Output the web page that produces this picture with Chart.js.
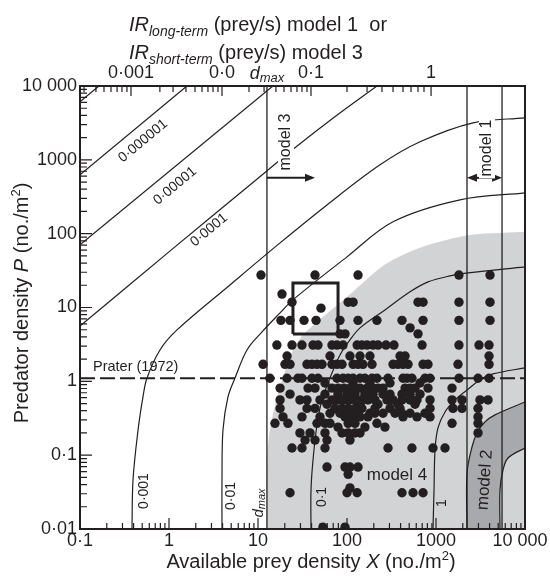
<!DOCTYPE html>
<html>
<head>
<meta charset="utf-8">
<title>IR isolines</title>
<script src="https://cdn.jsdelivr.net/npm/chart.js@4.4.1/dist/chart.umd.min.js"></script>
<style>
  html, body { margin: 0; padding: 0; background: #fff; }
  canvas { display: block; }
</style>
</head>
<body>
<canvas id="graphe" width="550" height="581"></canvas>
<script>
var ink = '#231f20';
var lightGrey = '#d2d3d5';
var darkGrey = '#a7a9ac';
var F = '"Liberation Sans", Arial, sans-serif';

// axes
var xTicks = [0.1, 1, 10, 100, 1000, 10000];
var xTickLabels = ['0·1', '1', '10', '100', '1000', '10 000\u00a0\u00a0'];
var yTicks = [0.01, 0.1, 1, 10, 100, 1000, 10000];
var yTickLabels = ['0·01', '0·1', '1', '10', '100', '1000', '10 000'];

// top axis = IR (prey/s), put at the prey density where each curve stands vertical
var topTickX = [0.374, 3.94, 39.4, 880];
var topTickLabels = ['0·001', '0·0', '0·1', '1'];
var topMinorX = [0.111, 0.151, 0.186, 0.223, 0.261, 0.296, 0.337,
    0.79, 1.11, 1.55, 1.96, 2.35, 2.74, 3.12, 3.55,
    7.92, 11.7, 15.9, 19.6, 23.5, 27.4, 31.2, 35.5,
    100, 168, 247, 329, 426, 524, 628, 733];

var dMax = 12.6;
var model1From = 2230;
var model1To = 5520;
var praterP = 1.1;
var arrowP = 570;
var model3ArrowTo = 43.7;
var boxX = [24.7, 79.3];
var boxP = [4.39, 21.5];

// iso-IR curves [X, P]
var ir1e7 = [[0.1, 6100], [0.163, 10000]];
var ir1e6 = [[0.1, 627], [1.59, 10000]];
var ir1e5 = [[0.1, 70.5], [14.7, 10000]];
var ir1e4 = [[0.1, 5.6], [1.03, 58.5], [10.5, 589], [26, 1455], [73, 3830], [217, 10000]];
var ir1e3 = [[0.384, 0.01], [0.394, 0.0461], [0.449, 0.219], [0.51, 0.615], [0.566, 1.11], [0.792, 2.66], [1.23, 4.97],
    [4.84, 20.2], [17.7, 75], [59.6, 245], [235, 855], [661, 1754], [2606, 3170], [10000, 3710]];
var ir1e2 = [[3.94, 0.01], [3.94, 0.0461], [4.04, 0.219], [4.6, 0.615], [5.52, 1.11], [7.52, 2.66], [11.1, 4.67],
    [17.7, 8.45], [24.7, 12.7], [100, 48.5], [329, 145], [1862, 287], [10000, 357]];
var ir1e1 = [[39.4, 0.01], [39.4, 0.0337], [41.5, 0.086], [46, 0.256], [52.4, 0.56], [64.4, 1.11], [83.4, 2.28],
    [108, 3.64], [140, 5.3], [267, 9.27], [511, 16.3], [813, 22.2], [1436, 26.8], [2290, 29.4], [10000, 35.5]];
var ir1 = [[925, 0.01], [950, 0.0337], [975, 0.117], [1052, 0.234], [1262, 0.385], [1635, 0.56], [2230, 0.763],
    [3119, 1.045], [4365, 1.26], [10000, 1.52]];
var dMaxEdge = [[12.6, 0.01], [12.6, 0.063], [13.6, 0.219], [17.7, 0.84], [24.7, 2.66], [32, 4.25], [46, 6.38],
    [100, 13.9], [329, 44.2], [1862, 90.6], [10000, 106]];
var model2Outer = [[2230, 0.01], [2230, 0.0574], [2537, 0.129], [2888, 0.2], [3553, 0.282], [4604, 0.351], [10000, 0.526]];
var model2Inner = [[5236, 0.01], [5236, 0.0337], [5662, 0.063], [6442, 0.0916], [10000, 0.125]];

// observations, one row per predator density level
var dotRowP = [27.5, 15.2, 11.8, 9.8, 6.7, 5.3, 4.4, 3.1, 2.2, 1.7, 1.1, 0.95, 0.81, 0.67, 0.56, 0.49, 0.43, 0.37, 0.33,
    0.27, 0.24, 0.2, 0.16, 0.125, 0.069, 0.055, 0.036, 0.031, 0.0106];
var dotRowX = [
    [10.8, 43.7, 133, 1811, 4045],
    [18.6],
    [24.1, 103, 117, 628, 715, 1811, 4045],
    [51],
    [18.1, 22.9, 32.9, 44.9, 83.4, 133, 217, 415, 715, 1811, 4045],
    [511],
    [83.4, 95, 628],
    [16.3, 24.1, 31.2, 41.5, 47.2, 67.8, 77.2, 90.2, 130, 147, 168, 196, 223, 274, 337, 697, 1811, 3041, 3944],
    [21.2, 64.4, 108, 140, 181, 394, 449, 3944],
    [11.4, 20.1, 22.9, 35.5, 40.4, 46, 52.4, 67.8, 77.2, 87.9, 117, 133, 151, 191, 329, 374, 426, 485, 715, 813, 1766, 3944],
    [13.6, 21.2, 28.1, 31.2, 40.4, 47.2, 77.2, 90.2, 103, 117, 140, 159, 191, 217, 289, 426, 473, 537, 752, 857, 1811, 2966, 3944],
    [56.6, 117, 181, 304, 661],
    [17.7, 36.5, 43.7, 67.8, 79.2, 92.5, 108, 123, 140, 168, 196, 223, 254, 449, 511, 581, 813, 1514],
    [22.9, 56.6, 79.2, 100, 123, 159, 196, 254, 304, 415, 511, 661],
    [17.7, 29.6, 35.5, 49.7, 67.8, 79.2, 92.5, 108, 126, 147, 172, 206, 281, 329, 415, 511, 612, 857, 1514, 1958, 3119, 3840],
    [59.6, 140, 223, 374, 581],
    [17.7, 35.5, 43.7, 73.3, 87.9, 103, 123, 147, 206, 304, 394, 857, 1552, 1958, 2966],
    [64.4, 83.4, 103, 117, 133, 181, 206, 254, 346, 415, 511, 752],
    [19.1, 31.2, 49.7, 95, 114, 140, 172, 426, 612, 857, 2966],
    [15.5, 21.7, 46, 56.6, 64.4, 103, 123, 217, 1514, 2966],
    [79.2, 159, 267],
    [29.6, 38.4, 56.6, 87.9, 103, 123, 140, 2966],
    [33.8, 43.7, 59.6, 108],
    [24.1, 31.2, 56.6, 289, 537, 925, 1262],
    [59.6, 95, 108, 133],
    [103],
    [108],
    [22.9, 100, 130, 415, 552, 715],
    [53.7, 95]
];

function pts(arr) {
    return arr.map(function (p) { return { x: p[0], y: p[1] }; });
}

function courbe(arr, extra) {
    var ds = {
        type: 'line', data: pts(arr), borderColor: ink, borderWidth: 1.2,
        pointRadius: 0, tension: 0.35, fill: false, order: 2
    };
    return Object.assign(ds, extra || {});
}

var dots = [];
dotRowP.forEach(function (p, i) {
    dotRowX[i].forEach(function (x) { dots.push({ x: x, y: p }); });
});

// "fond" = colour filled under the curve, down to the x axis (done in the plugin below)
var datasets = [
    { type: 'scatter', data: dots, backgroundColor: ink, borderWidth: 0, pointRadius: 4.7, order: 0 },
    courbe(dMaxEdge, { borderWidth: 0, borderColor: 'rgba(0,0,0,0)', fond: lightGrey, order: 6 }),
    courbe(model2Outer, { fond: darkGrey, order: 5 }),
    courbe(model2Inner, { fond: lightGrey, order: 4 }),
    courbe(ir1e7, { tension: 0 }),
    courbe(ir1e6, { tension: 0 }),
    courbe(ir1e5, { tension: 0 }),
    courbe(ir1e4),
    courbe(ir1e3),
    courbe(ir1e2),
    courbe(ir1e1),
    courbe(ir1),
    courbe([[dMax, 0.01], [dMax, 10000]], { tension: 0, borderWidth: 1.3 }),
    courbe([[model1From, 0.01], [model1From, 10000]], { tension: 0, borderWidth: 1.3 }),
    courbe([[model1To, 0.01], [model1To, 10000]], { tension: 0, borderWidth: 1.3 }),
    courbe([[0.1, praterP], [10000, praterP]], { tension: 0, borderWidth: 2, borderDash: [15, 5] }),
    courbe([[boxX[0], boxP[0]], [boxX[1], boxP[0]], [boxX[1], boxP[1]], [boxX[0], boxP[1]], [boxX[0], boxP[0]]],
        { tension: 0, borderWidth: 3, borderJoinStyle: 'miter', order: 1 })
];

// mixed-font text, parts = [text, font, dy]
function rich(ctx, parts, x, y, align) {
    var w = 0;
    parts.forEach(function (p) { ctx.font = p[1]; w += ctx.measureText(p[0]).width; });
    var cx = align === 'center' ? x - w / 2 : (align === 'right' ? x - w : x);
    ctx.textAlign = 'left';
    parts.forEach(function (p) {
        ctx.font = p[1];
        ctx.fillText(p[0], cx, y + (p[2] || 0));
        cx += ctx.measureText(p[0]).width;
    });
    return w;
}

function turned(ctx, x, y, angle, fn) {
    ctx.save();
    ctx.translate(x, y);
    ctx.rotate(angle);
    fn();
    ctx.restore();
}

function arrowHead(ctx, x, y, dir) {
    ctx.beginPath();
    ctx.moveTo(x, y);
    ctx.lineTo(x - dir * 10, y - 4);
    ctx.lineTo(x - dir * 10, y + 4);
    ctx.closePath();
    ctx.fill();
}

var fonds = {
    id: 'fonds',
    beforeDatasetsDraw: function (chart) {
        var ctx = chart.ctx, a = chart.chartArea;
        ctx.save();
        ctx.beginPath();
        ctx.rect(a.left, a.top, a.right - a.left, a.bottom - a.top);
        ctx.clip();
        chart.data.datasets.forEach(function (ds, i) {
            if (!ds.fond) return;
            var line = chart.getDatasetMeta(i).dataset;
            ctx.beginPath();
            line.path(ctx);
            ctx.lineTo(a.right, a.bottom);
            ctx.closePath();
            ctx.fillStyle = ds.fond;
            ctx.fill();
        });
        ctx.restore();
    }
};

var decor = {
    id: 'decor',
    afterDraw: function (chart) {
        var ctx = chart.ctx, a = chart.chartArea;
        var sx = chart.scales.x, sy = chart.scales.y, st = chart.scales.x2;
        var k, m, p;
        ctx.save();
        ctx.strokeStyle = ink;
        ctx.fillStyle = ink;

        // tick marks, all pointing inwards
        ctx.lineWidth = 1.2;
        ctx.beginPath();
        for (k = -1; k <= 3; k++) {
            for (m = 1; m <= 9; m++) {
                p = sx.getPixelForValue(m * Math.pow(10, k));
                ctx.moveTo(p, a.bottom);
                ctx.lineTo(p, a.bottom - (m === 1 ? 11 : 6));
            }
        }
        for (k = -2; k <= 3; k++) {
            for (m = 1; m <= 9; m++) {
                p = sy.getPixelForValue(m * Math.pow(10, k));
                ctx.moveTo(a.left, p);
                ctx.lineTo(a.left + (m === 1 ? 12 : 7), p);
            }
        }
        topTickX.forEach(function (v) {
            var q = st.getPixelForValue(v);
            ctx.moveTo(q, a.top);
            ctx.lineTo(q, a.top + 10);
        });
        topMinorX.forEach(function (v) {
            var q = st.getPixelForValue(v);
            ctx.moveTo(q, a.top);
            ctx.lineTo(q, a.top + 6);
        });
        ctx.stroke();

        // frame
        ctx.lineWidth = 2;
        ctx.strokeRect(a.left, a.top, a.right - a.left, a.bottom - a.top);

        // arrows model 3 / model 1
        var ya = sy.getPixelForValue(arrowP);
        var x0 = sx.getPixelForValue(dMax), x1 = sx.getPixelForValue(model3ArrowTo);
        ctx.lineWidth = 2;
        ctx.beginPath();
        ctx.moveTo(x0, ya);
        ctx.lineTo(x1 - 6, ya);
        ctx.stroke();
        arrowHead(ctx, x1, ya, 1);
        var m0 = sx.getPixelForValue(model1From), m1 = sx.getPixelForValue(model1To);
        ctx.beginPath();
        ctx.moveTo(m0 + 6, ya);
        ctx.lineTo(m1 - 6, ya);
        ctx.stroke();
        arrowHead(ctx, m0, ya, -1);
        arrowHead(ctx, m1, ya, 1);

        ctx.textBaseline = 'middle';
        // labels along the diagonal lines
        var diag = Math.atan2(sy.getPixelForValue(1) - sy.getPixelForValue(10),
            sx.getPixelForValue(10) - sx.getPixelForValue(1));
        [['0·000001', 143, 141], ['0·00001', 175, 186], ['0·0001', 209, 230]].forEach(function (l) {
            turned(ctx, l[1], l[2], -Math.abs(diag), function () {
                rich(ctx, [[l[0], '14px ' + F]], 0, 0, 'center');
            });
        });

        // vertical labels at the foot of the curves
        [['0·001', 144, 491], ['0·01', 231, 496], ['0·1', 322, 497], ['1', 442, 503]].forEach(function (l) {
            turned(ctx, l[1], l[2], -Math.PI / 2, function () {
                rich(ctx, [[l[0], '14px ' + F]], 0, 0, 'center');
            });
        });
        turned(ctx, 259, 503, -Math.PI / 2, function () {
            rich(ctx, [['d', 'italic 15px ' + F], ['max', 'italic 11px ' + F, 3]], 0, 0, 'center');
        });

        // model labels on white patches
        [['model 3', 286, 142], ['model 1', 487, 148]].forEach(function (l) {
            turned(ctx, l[1], l[2], -Math.PI / 2, function () {
                ctx.font = '16px ' + F;
                var w = ctx.measureText(l[0]).width;
                ctx.fillStyle = '#fff';
                ctx.fillRect(-w / 2 - 2, -8, w + 4, 16);
                ctx.fillStyle = ink;
                rich(ctx, [[l[0], '16px ' + F]], 0, 0, 'center');
            });
        });
        turned(ctx, 485, 480, -86 * Math.PI / 180, function () {
            rich(ctx, [['model 2', '17px ' + F]], 0, 0, 'center');
        });
        rich(ctx, [['model 4', '17px ' + F]], 397, 475, 'center');

        ctx.textBaseline = 'alphabetic';
        rich(ctx, [['Prater (1972)', '14.5px ' + F]], 93, 371, 'left');

        // top axis dmax
        rich(ctx, [['d', 'italic 18px ' + F], ['max', 'italic 13px ' + F, 3]], st.getPixelForValue(dMax), 79, 'center');

        // axis titles
        rich(ctx, [['Available prey density ', '20px ' + F], ['X', 'italic 20px ' + F], [' (no./m', '20px ' + F],
            ['2', '13px ' + F, -8], [')', '20px ' + F]], 311, 568, 'center');
        turned(ctx, 28, 303, -Math.PI / 2, function () {
            rich(ctx, [['Predator density ', '20px ' + F], ['P', 'italic 20px ' + F], [' (no./m', '20px ' + F],
                ['2', '13px ' + F, -8], [')', '20px ' + F]], 0, 0, 'center');
        });
        rich(ctx, [['IR', 'italic 20px ' + F], ['long-term', 'italic 14px ' + F, 5],
            [' (prey/s) model 1  or', '20px ' + F]], 129, 31, 'left');
        rich(ctx, [['IR', 'italic 20px ' + F], ['short-term', 'italic 14px ' + F, 5],
            [' (prey/s) model 3', '20px ' + F]], 129, 59, 'left');
        ctx.restore();
    }
};

function axe(position, ticks, labels, size, pad) {
    return {
        type: 'logarithmic', position: position,
        min: position === 'left' ? 0.01 : 0.1, max: 10000,
        afterBuildTicks: function (s) { s.ticks = ticks.map(function (v) { return { value: v }; }); },
        afterFit: function (s) {
            if (position === 'left') { s.width = size; } else { s.height = size; }
            s.paddingLeft = 0; s.paddingRight = 0; s.paddingTop = 0; s.paddingBottom = 0;
        },
        grid: { display: false, drawTicks: false },
        border: { display: false },
        ticks: {
            autoSkip: false, maxRotation: 0, padding: pad, color: ink,
            font: { family: F, size: 18 },
            callback: function (v, i) { return labels[i]; }
        }
    };
}

new Chart(document.getElementById('graphe'), {
    type: 'scatter',
    data: { datasets: datasets },
    options: {
        responsive: false,
        animation: false,
        devicePixelRatio: 1,
        layout: { padding: { left: 0, right: 25, top: 0, bottom: 0 } },
        plugins: { legend: { display: false }, tooltip: { enabled: false } },
        scales: {
            x: axe('bottom', xTicks, xTickLabels, 52, 1),
            x2: axe('top', topTickX, topTickLabels, 86, 2),
            y: axe('left', yTicks, yTickLabels, 80, 3)
        }
    },
    plugins: [fonds, decor]
});
</script>
</body>
</html>
